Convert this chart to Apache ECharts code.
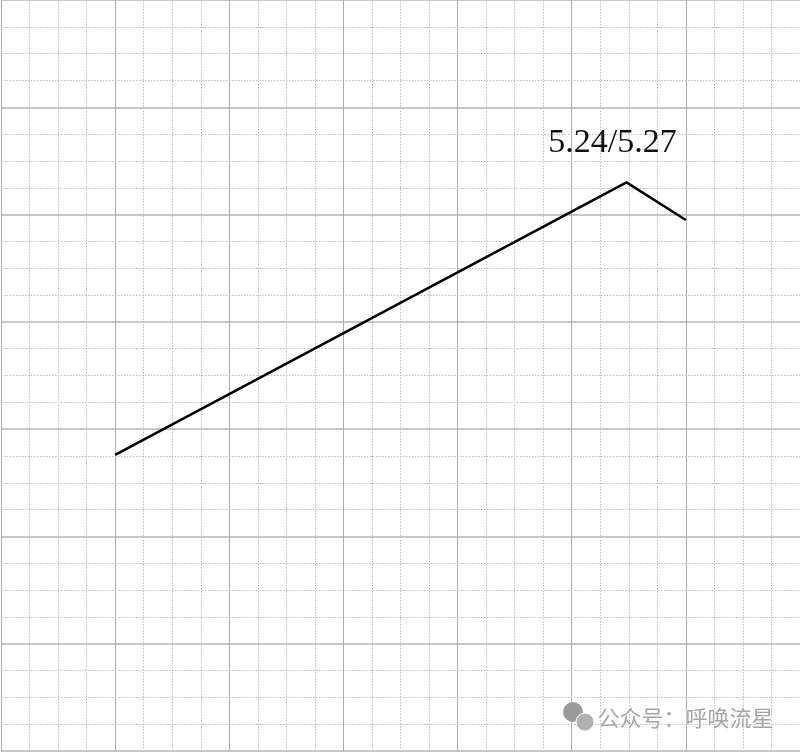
<!DOCTYPE html>
<html>
<head>
<meta charset="utf-8">
<title>chart</title>
<script src="https://cdn.jsdelivr.net/npm/echarts@6/dist/echarts.min.js"></script>
<style>
  html, body { margin: 0; padding: 0; background: #fff; }
  #main { width: 800px; height: 752px; }
</style>
</head>
<body>
<div id="main"></div>
<script>
// 折线的三个点（网格单位，左下为原点）
var xValues = [1.0, 5.48, 6.0]
var yValues = [2.76, 5.30, 4.95]
var peakLabel = '5.24/5.27'
var watermark = '公众号：呼唤流星'

var lineData = xValues.map(function (x, i) {
  var item = { value: [x, yValues[i]] }
  if (i === 1) {
    item.label = {
      show: true,
      formatter: peakLabel
    }
  }
  return item
})

var myChart = echarts.init(document.getElementById('main'))

var option = {
  backgroundColor: '#fff',
  animation: false,
  grid: { left: 1, right: 0, top: 0, bottom: 1 },
  xAxis: {
    type: 'value',
    min: 0,
    max: 7,
    interval: 1,
    axisLine: { show: false },
    axisTick: { show: false },
    axisLabel: { show: false },
    splitLine: { show: true, lineStyle: { color: '#ababab', width: 1 } },
    minorTick: { show: false, splitNumber: 4 },
    minorSplitLine: { show: true, lineStyle: { color: '#bdbdbd', width: 1, type: [1.5, 1.5] } }
  },
  yAxis: {
    type: 'value',
    min: 0,
    max: 7,
    interval: 1,
    axisLine: { show: false },
    axisTick: { show: false },
    axisLabel: { show: false },
    splitLine: { show: true, lineStyle: { color: '#b4b4b4', width: 1.5 } },
    minorTick: { show: false, splitNumber: 4 },
    minorSplitLine: { show: true, lineStyle: { color: '#bdbdbd', width: 1, type: [1.5, 1.5] } }
  },
  series: [
    {
      type: 'line',
      data: lineData,
      symbol: 'circle',
      symbolSize: 0,
      showSymbol: true,
      lineStyle: { color: '#000', width: 2.5 },
      itemStyle: { color: '#000' },
      label: {
        position: 'top',
        distance: 0,
        offset: [-14, -22],
        fontFamily: 'Liberation Serif',
        fontSize: 34,
        lineHeight: 34,
        color: '#111'
      }
    }
  ],
  graphic: [
    // 水印图标（简化）
    { type: 'circle', shape: { cx: 573, cy: 712, r: 10 }, style: { fill: '#9a9a9a' }, z: 100 },
    { type: 'circle', shape: { cx: 585, cy: 722, r: 9 }, style: { fill: '#b0b0b0', stroke: '#fff', lineWidth: 1 }, z: 101 },
    {
      type: 'text',
      left: 597,
      top: 706,
      z: 102,
      style: {
        text: watermark,
        font: '22px "Noto Sans CJK SC"',
        fill: '#a5a5a5',
        stroke: '#fff',
        lineWidth: 1
      }
    }
  ]
}

myChart.setOption(option)
</script>
</body>
</html>
